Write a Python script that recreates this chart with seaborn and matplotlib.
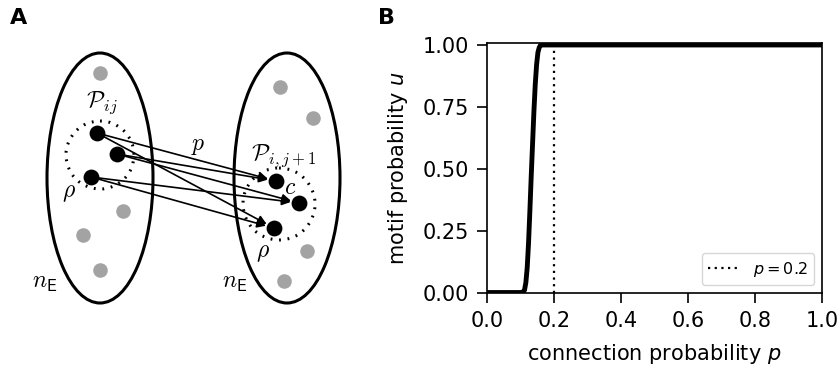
import numpy as np
import pandas as pd
import matplotlib
matplotlib.use("Agg")
import matplotlib.pyplot as plt
from matplotlib.patches import Ellipse, Circle
import seaborn as sns

# ---- data (panel B) ----
p_vals = [0.0, 0.05, 0.10, 0.108, 0.112, 0.116, 0.120, 0.124, 0.128, 0.132, 0.136,
          0.140, 0.144, 0.148, 0.152, 0.156, 0.160, 0.17, 0.2, 0.5, 1.0]
u_vals = [0.0, 0.0, 0.0, 0.002, 0.01, 0.04, 0.10, 0.20, 0.33, 0.47, 0.60,
          0.73, 0.84, 0.92, 0.97, 0.99, 1.0, 1.0, 1.0, 1.0, 1.0]
p_ref = 0.2
x_ticks = [0.0, 0.2, 0.4, 0.6, 0.8, 1.0]
y_ticks = [0.0, 0.25, 0.5, 0.75, 1.0]

# ---- diagram layout (panel A, pixel-like coords) ----
ell_centers = [(100, 178), (287, 178)]
grey_left = [(100, 73), (123, 211), (83, 235), (100, 270)]
grey_right = [(280, 87), (313, 118), (307, 251), (284, 281)]
black_left = [(97, 133), (117, 154), (91, 177)]
black_right = [(276, 181), (299, 203), (274, 228)]
links = [(0, 0), (0, 2), (1, 0), (1, 1), (2, 1), (2, 2)]

sns.set_style("ticks")
plt.rcParams['font.family'] = ['DejaVu Sans']
plt.rcParams.update({'text.color': 'k', 'axes.labelcolor': 'k',
                     'xtick.color': 'k', 'ytick.color': 'k', 'axes.edgecolor': 'k'})

fig = plt.figure(figsize=(8.4, 3.72), dpi=100)

# Panel A
axA = fig.add_axes([0, 0, 360 / 840, 1])
axA.set_xlim(0, 360)
axA.set_ylim(372, 0)
axA.axis('off')
for c in ell_centers:
    axA.add_patch(Ellipse(c, 106, 250, fill=False, lw=2.2, ec='k'))
axA.add_patch(Circle((100, 155), 34, fill=False, lw=2.2, ec='k', ls=(0, (0.6, 2.2))))
axA.add_patch(Circle((279, 204), 36, fill=False, lw=2.2, ec='k', ls=(0, (0.6, 2.2))))
gx = [g[0] for g in grey_left + grey_right]
gy = [g[1] for g in grey_left + grey_right]
axA.scatter(gx, gy, s=110, color='#a3a3a3', zorder=3, linewidths=0)
for i, j in links:
    axA.annotate("", xy=black_right[j], xytext=black_left[i],
                 arrowprops=dict(arrowstyle='-|>', lw=1.2, color='k',
                                 shrinkA=4, shrinkB=6, mutation_scale=13),
                 zorder=4)
bx = [b[0] for b in black_left + black_right]
by = [b[1] for b in black_left + black_right]
axA.scatter(bx, by, s=130, color='k', zorder=5, linewidths=0)
mt = dict(math_fontfamily='cm', fontsize=17, ha='center', va='center', color='k')
axA.text(102, 103, r'$\mathcal{P}_{ij}$', **mt)
axA.text(198, 145, r'$p$', **mt)
axA.text(284, 156, r'$\mathcal{P}_{i,j+1}$', **mt)
axA.text(290, 187, r'$c$', **mt)
axA.text(69, 192, r'$\rho$', **mt)
axA.text(263, 252, r'$\rho$', **mt)
axA.text(45, 282, r'$n_\mathsf{E}$', **mt)
axA.text(235, 282, r'$n_\mathsf{E}$', **mt)
fig.text(10 / 840, 1 - 18 / 372, 'A', fontsize=16, fontweight='bold', ha='left', va='center', color='k')
fig.text(378 / 840, 1 - 18 / 372, 'B', fontsize=16, fontweight='bold', ha='left', va='center', color='k')

# Panel B
axB = fig.add_axes([487 / 840, 1 - 293 / 372, (822 - 487) / 840, (293 - 43) / 372])
df = pd.DataFrame({'p': p_vals, 'u': u_vals})
sns.lineplot(data=df, x='p', y='u', ax=axB, color='k', lw=3.5, estimator=None, sort=True)
axB.plot([p_ref, p_ref], [0, 1], color='k', ls=(0, (1, 2)), lw=1.6, label=r'$p = 0.2$')
axB.set_xlim(0, 1)
axB.set_ylim(-0.002, 1.008)
axB.set_xticks(x_ticks)
axB.set_yticks(y_ticks)
axB.set_yticklabels([f'{v:.2f}' for v in y_ticks])
axB.set_xticklabels([f'{v:.1f}' for v in x_ticks])
axB.tick_params(labelsize=15, length=7, width=1.2, pad=6, color='k', labelcolor='k')
for s in axB.spines.values():
    s.set_visible(True)
    s.set_color('k')
    s.set_linewidth(1.2)
axB.set_xlabel(r'connection probability $p$', fontsize=15, labelpad=8)
axB.set_ylabel(r'motif probability $u$', fontsize=15, labelpad=9)
axB.legend(loc='lower right', fontsize=11.5, frameon=True, edgecolor='#cccccc', fancybox=True)

fig.savefig('out.png', dpi=100)
